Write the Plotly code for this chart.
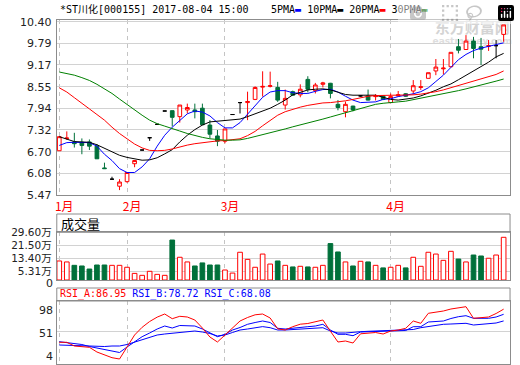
import plotly.graph_objects as go

# ---------------- data ----------------
title_text = "*ST川化[000155] 2017-08-04 15:00"
months = ["1月", "2月", "3月", "4月"]
month_start_idx = [0, 9, 22, 44]

opens = [6.73, 7.08, 6.98, 6.97, 6.98, 6.86, 6.24, 5.92, 5.72, 5.85,
         6.36, 6.75, 7.10, 7.48, 7.86, 7.87, 7.70, 7.89, 7.89, 7.94,
         7.46, 7.15, 7.00, 7.76, 8.10, 8.10, 8.19, 8.54, 8.56, 8.53,
         8.03, 8.41, 8.32, 8.76, 8.44, 8.62, 8.65, 8.05, 7.84, 8.00,
         8.29, 8.29, 8.27, 8.29, 8.10, 8.29, 8.35, 8.43, 8.53, 8.79,
         9.00, 9.06, 9.12, 9.69, 9.61, 9.85, 9.69, 9.70, 9.72, 10.04]
highs = [7.13, 7.28, 7.24, 7.08, 7.05, 6.92, 6.39, 5.99, 5.92, 6.11,
         6.46, 6.75, 7.10, 7.48, 7.86, 7.87, 8.03, 8.07, 8.07, 8.07,
         7.60, 7.32, 7.35, 7.76, 8.10, 8.41, 8.56, 8.99, 8.98, 8.69,
         8.47, 8.44, 8.62, 8.85, 8.66, 8.69, 8.66, 8.17, 8.13, 8.01,
         8.31, 8.47, 8.34, 8.30, 8.36, 8.43, 8.37, 8.74, 8.74, 8.95,
         9.34, 9.34, 9.53, 9.91, 10.02, 9.97, 9.94, 9.88, 9.88, 10.31]
lows = [6.73, 7.04, 6.82, 6.63, 6.75, 6.50, 6.22, 5.92, 5.61, 5.82,
        6.26, 6.75, 7.01, 7.48, 7.86, 7.42, 7.53, 7.79, 7.65, 7.46,
        7.08, 6.86, 6.94, 7.76, 7.79, 7.60, 8.17, 8.27, 8.53, 8.12,
        7.90, 8.30, 8.25, 8.39, 8.36, 8.53, 8.22, 7.88, 7.68, 7.85,
        8.27, 8.16, 8.16, 8.17, 8.10, 8.28, 8.26, 8.33, 8.46, 8.79,
        8.88, 8.90, 9.10, 9.50, 9.61, 9.36, 9.17, 9.57, 9.36, 9.83]
closes = [7.13, 7.09, 6.93, 6.88, 6.86, 6.50, 6.22, 5.92, 5.84, 6.11,
          6.45, 6.75, 7.10, 7.48, 7.86, 7.68, 8.03, 7.96, 7.84, 7.47,
          7.20, 7.00, 7.35, 7.76, 8.10, 8.13, 8.53, 8.56, 8.58, 8.17,
          8.22, 8.31, 8.48, 8.48, 8.60, 8.66, 8.36, 7.96, 8.05, 7.89,
          8.29, 8.17, 8.29, 8.19, 8.27, 8.32, 8.28, 8.58, 8.55, 8.95,
          9.11, 9.08, 9.53, 9.59, 9.85, 9.64, 9.62, 9.72, 9.72, 10.31]

# volume in 万 (10k shares)
volumes = [11.8, 11.2, 9.1, 8.7, 6.8, 9.3, 9.3, 9.1, 9.1, 7.9,
           4.1, 2.9, 5.4, 3.5, 2.9, 24.8, 14.1, 11.2, 8.7, 10.6,
           9.3, 9.3, 6.2, 4.3, 17.2, 12.8, 7.9, 16.1, 9.9, 11.8,
           9.1, 8.1, 8.5, 8.1, 7.9, 9.1, 22.6, 17.4, 11.2, 8.7,
           11.6, 11.2, 9.1, 7.5, 7.9, 9.1, 7.5, 14.1, 8.5, 17.2,
           16.1, 12.2, 17.8, 13.0, 11.2, 15.5, 14.9, 13.5, 15.5, 26.5]

ma5 = [6.88, 6.96, 6.97, 6.97, 6.96, 6.86, 6.63, 6.45, 6.22, 6.11,
       6.11, 6.27, 6.50, 6.86, 7.17, 7.40, 7.60, 7.78, 7.86, 7.83,
       7.72, 7.53, 7.38, 7.38, 7.53, 7.78, 8.02, 8.25, 8.40, 8.44,
       8.44, 8.38, 8.36, 8.36, 8.42, 8.47, 8.48, 8.40, 8.28, 8.17,
       8.10, 8.10, 8.12, 8.19, 8.21, 8.27, 8.30, 8.35, 8.41, 8.52,
       8.70, 8.88, 9.10, 9.32, 9.47, 9.58, 9.65, 9.70, 9.74, 9.80]
ma10 = [7.13, 7.06, 6.99, 6.98, 6.97, 6.90, 6.80, 6.70, 6.60, 6.54,
        6.49, 6.46, 6.47, 6.53, 6.64, 6.76, 6.98, 7.17, 7.33, 7.46,
        7.55, 7.57, 7.58, 7.60, 7.63, 7.70, 7.78, 7.86, 7.94, 8.05,
        8.17, 8.32, 8.40, 8.46, 8.48, 8.49, 8.46, 8.39, 8.33, 8.31,
        8.31, 8.31, 8.31, 8.25, 8.19, 8.17, 8.19, 8.23, 8.29, 8.36,
        8.45, 8.55, 8.63, 8.75, 8.87, 9.00, 9.12, 9.25, 9.40, 9.50]
ma20 = [8.52, 8.40, 8.24, 8.07, 7.92, 7.76, 7.60, 7.40, 7.22, 7.07,
        6.92, 6.81, 6.74, 6.73, 6.74, 6.78, 6.84, 6.89, 6.93, 6.96,
        6.99, 7.01, 7.02, 7.04, 7.07, 7.16, 7.28, 7.44, 7.60, 7.74,
        7.84, 7.91, 7.97, 8.02, 8.06, 8.09, 8.10, 8.12, 8.15, 8.19,
        8.24, 8.28, 8.30, 8.30, 8.30, 8.30, 8.31, 8.32, 8.34, 8.37,
        8.41, 8.46, 8.52, 8.58, 8.64, 8.70, 8.76, 8.82, 8.90, 9.00]
ma30 = [8.97, 8.93, 8.88, 8.81, 8.73, 8.62, 8.50, 8.36, 8.20, 8.04,
        7.88, 7.74, 7.60, 7.50, 7.43, 7.37, 7.29, 7.22, 7.16, 7.11,
        7.07, 7.04, 7.03, 7.03, 7.04, 7.08, 7.13, 7.19, 7.24, 7.29,
        7.35, 7.41, 7.46, 7.52, 7.58, 7.63, 7.69, 7.75, 7.82, 7.88,
        7.95, 8.00, 8.05, 8.08, 8.11, 8.12, 8.14, 8.18, 8.23, 8.27,
        8.31, 8.35, 8.40, 8.44, 8.49, 8.54, 8.59, 8.65, 8.71, 8.77]
ma_names = ["5PMA", "10PMA", "20PMA", "30PMA"]
ma_colors = ["#0000FF", "#000000", "#FF0000", "#008000"]

rsi_a = [33.9, 33.9, 28.0, 27.2, 25.9, 18.4, 13.6, 9.3, 7.2, 26.4,
         45.6, 57.9, 67.2, 74.2, 79.2, 71.7, 75.5, 74.4, 69.6, 56.8,
         42.4, 34.4, 45.6, 56.8, 68.0, 73.6, 77.9, 79.2, 72.8, 55.5,
         53.6, 58.9, 62.9, 64.0, 66.4, 69.6, 51.7, 34.4, 36.0, 32.8,
         47.5, 48.3, 49.6, 47.2, 52.0, 53.6, 56.3, 68.0, 64.3, 80.3,
         81.6, 84.0, 87.2, 88.8, 90.9, 72.3, 73.6, 74.4, 80.0, 86.95]
rsi_b = [34.9, 33.6, 32.0, 30.4, 27.2, 24.8, 21.6, 18.9, 17.6, 26.4,
         34.4, 42.9, 48.8, 55.2, 60.0, 56.8, 60.8, 60.8, 60.0, 55.2,
         48.8, 42.9, 46.7, 53.6, 57.6, 62.7, 65.6, 68.0, 65.6, 56.3,
         55.2, 56.8, 57.6, 58.9, 60.0, 62.7, 53.6, 46.7, 46.7, 44.5,
         50.4, 50.9, 50.9, 50.9, 52.5, 52.5, 52.8, 58.9, 58.9, 66.4,
         67.5, 68.0, 72.0, 74.9, 76.5, 72.3, 72.3, 72.3, 74.4, 78.72]
rsi_c = [29.6, 29.1, 28.5, 28.0, 27.2, 26.9, 27.2, 28.0, 28.0, 30.4,
         34.4, 38.4, 42.4, 45.6, 47.2, 48.3, 49.6, 50.9, 52.0, 50.4,
         48.0, 44.0, 45.6, 49.6, 53.6, 55.2, 56.8, 59.0, 57.3, 53.6,
         53.6, 54.4, 55.2, 56.0, 56.8, 57.3, 52.0, 48.8, 48.8, 49.3,
         50.9, 51.5, 52.0, 52.3, 52.5, 52.8, 53.3, 54.4, 57.3, 59.2,
         61.1, 62.7, 63.2, 64.0, 64.3, 61.6, 62.4, 63.2, 64.8, 68.08]
rsi_names = ["RSI_A", "RSI_B", "RSI_C"]
rsi_colors = ["#FF0000", "#0000FF", "#0000FF"]

price_ticks = [5.47, 6.08, 6.70, 7.32, 7.94, 8.55, 9.17, 9.79, 10.40]
vol_ticks = [5.31, 13.40, 21.50, 29.60]
rsi_tick_labels = ["98", "51", "4"]
rsi_mid_line = 51

# ---------------- styling ----------------
W, H = 520, 365
RED = "#FF0000"
GREEN = "#00703A"
BORDER = "#8C8C8C"
GRID = "#D2D2D2"
VGRID = "#C4C4C4"
LBL = "#222222"
MONO = "DejaVu Sans Mono, Noto Sans CJK SC, monospace"
SANS = "DejaVu Sans, Noto Sans CJK SC, sans-serif"
CJK = "Noto Sans CJK SC, sans-serif"

def px_x(p):
    return p / W

def px_y(p):
    return 1 - p / H

XD = [px_x(55), px_x(510)]
MAIN_D = [px_y(195), px_y(19.5)]
VOL_D = [px_y(280), px_y(232.3)]
RSI_D = [px_y(364), px_y(301)]
XR = [-0.33, 59.85]

n = len(opens)
idx = list(range(n))
up = [i for i in idx if closes[i] > opens[i]]
dn = [i for i in idx if closes[i] < opens[i]]
flat = [i for i in idx if closes[i] == opens[i]]
vol_up = [i for i in idx if closes[i] >= opens[i]]
vol_dn = [i for i in idx if closes[i] < opens[i]]


def sub(arr, ii):
    return [arr[i] for i in ii]


fig = go.Figure()


def add_candles(ii, inc_line, inc_fill, dec_line, dec_fill):
    fig.add_trace(go.Candlestick(
        x=ii, open=sub(opens, ii), high=sub(highs, ii), low=sub(lows, ii),
        close=sub(closes, ii),
        increasing=dict(line=dict(color=inc_line, width=1), fillcolor=inc_fill),
        decreasing=dict(line=dict(color=dec_line, width=1), fillcolor=dec_fill),
        whiskerwidth=0, showlegend=False, hoverinfo="skip",
        xaxis="x", yaxis="y"))


add_candles(up, RED, "#FFFFFF", RED, "#FFFFFF")
add_candles(dn, GREEN, GREEN, GREEN, GREEN)
add_candles(flat, "#000000", "#000000", "#000000", "#000000")

for vals, col in zip([ma5, ma10, ma20, ma30], ma_colors):
    fig.add_trace(go.Scatter(x=idx, y=vals, mode="lines",
                             line=dict(color=col, width=1),
                             showlegend=False, hoverinfo="skip",
                             xaxis="x", yaxis="y"))

fig.add_trace(go.Bar(x=vol_up, y=sub(volumes, vol_up), width=0.62,
                     marker=dict(color="#FFFFFF", line=dict(color=RED, width=1)),
                     showlegend=False, hoverinfo="skip", xaxis="x2", yaxis="y2"))
fig.add_trace(go.Bar(x=vol_dn, y=sub(volumes, vol_dn), width=0.62,
                     marker=dict(color=GREEN, line=dict(color=GREEN, width=1)),
                     showlegend=False, hoverinfo="skip", xaxis="x2", yaxis="y2"))

for vals, col in zip([rsi_c, rsi_b, rsi_a], rsi_colors[::-1]):
    fig.add_trace(go.Scatter(x=idx, y=vals, mode="lines",
                             line=dict(color=col, width=1),
                             showlegend=False, hoverinfo="skip",
                             xaxis="x3", yaxis="y3"))

xcommon = dict(domain=XD, range=XR, tickvals=month_start_idx, showgrid=True,
               gridcolor=VGRID, griddash="4px,4px", gridwidth=1,
               showline=True, mirror=True, linecolor=BORDER, linewidth=1,
               zeroline=False, ticks="", fixedrange=True)
ycommon = dict(showgrid=True, gridcolor=GRID, gridwidth=1, showline=True,
               mirror=True, linecolor=BORDER, linewidth=1, zeroline=False,
               ticks="", tickfont=dict(family=SANS, size=11, color=LBL),
               ticklabelstandoff=2, automargin=False, fixedrange=True)

fig.update_layout(
    width=W, height=H, autosize=False,
    margin=dict(l=0, r=0, t=0, b=0),
    paper_bgcolor="#FFFFFF", plot_bgcolor="#FFFFFF",
    barmode="overlay", showlegend=False,
    xaxis=dict(**xcommon, anchor="y", ticktext=months,
               tickfont=dict(family=CJK, size=12, color=RED),
               ticklabelshift=5, ticklabelstandoff=1,
               rangeslider=dict(visible=False)),
    yaxis=dict(**ycommon, domain=MAIN_D, range=[5.47, 10.464],
               tickvals=price_ticks,
               ticktext=[f"{v:.2f}" for v in price_ticks], anchor="x"),
    xaxis2=dict(**xcommon, anchor="y2", showticklabels=False),
    yaxis2=dict(**{k: v for k, v in ycommon.items() if k != "tickfont"},
                tickfont=dict(family=SANS, size=10.5, color=LBL),
                domain=VOL_D, range=[0, 29.6],
                tickvals=vol_ticks,
                ticktext=[f"{v:.2f}万" for v in vol_ticks],
                anchor="x2"),
    xaxis3=dict(**xcommon, anchor="y3", showticklabels=False),
    yaxis3=dict(**{k: v for k, v in ycommon.items() if k != "showgrid"},
                showgrid=False, showticklabels=False,
                domain=RSI_D, range=[-0.8, 100],
                minor=dict(tickvals=[rsi_mid_line], showgrid=True,
                           gridcolor=GRID, gridwidth=1, ticks=""),
                anchor="x3"),
)

# panel header boxes (volume and RSI)
for y0, y1 in [(px_y(232.3), px_y(214)), (px_y(301), px_y(288))]:
    fig.add_shape(type="rect", xref="paper", yref="paper",
                  x0=XD[0], x1=XD[1], y0=y0, y1=y1,
                  line=dict(color=BORDER, width=1), fillcolor="rgba(0,0,0,0)")

# watermark below the traces
fig.add_shape(type="rect", xref="paper", yref="paper",
              x0=px_x(434), x1=px_x(510), y0=px_y(36), y1=px_y(20),
              line=dict(width=0), fillcolor="rgba(0,0,0,0)", layer="below",
              label=dict(text="<b>东方财富网</b>",
                         font=dict(family=CJK, size=15, color="#D4D4D4"),
                         textposition="middle center"))
fig.add_shape(type="rect", xref="paper", yref="paper",
              x0=px_x(434), x1=px_x(510), y0=px_y(44), y1=px_y(36),
              line=dict(width=0), fillcolor="rgba(0,0,0,0)", layer="below",
              label=dict(text="<b>eastmoney.com</b>",
                         font=dict(family=SANS, size=9, color="#DEDEDE"),
                         textposition="middle center"))

# title
fig.add_annotation(xref="paper", yref="paper", x=px_x(56), y=px_y(9),
                   xanchor="left", yanchor="middle", showarrow=False,
                   text=title_text,
                   font=dict(family=MONO, size=10, color="#000000"))

# MA legend
legend_html = " ".join(
    f"{nm}<span style='color:{c}'>▬</span>" for nm, c in zip(ma_names, ma_colors))
fig.add_annotation(xref="paper", yref="paper", x=px_x(268), y=px_y(9),
                   xanchor="left", yanchor="middle", showarrow=False,
                   text=legend_html,
                   font=dict(family=MONO, size=10, color="#000000"))

# volume header and its zero label (drawn at the panel floor)
fig.add_annotation(xref="paper", yref="paper", x=px_x(57), y=px_y(223),
                   xanchor="left", yanchor="middle", showarrow=False,
                   text="成交量", font=dict(family=CJK, size=13, color="#000000"))
fig.add_annotation(xref="paper", yref="paper", x=px_x(53), y=px_y(283.5),
                   xanchor="right", yanchor="middle", showarrow=False,
                   text="0", font=dict(family=SANS, size=11, color=LBL))

# RSI scale labels (placed as in the source chart, inside the panel)
for lab, ypx in zip(rsi_tick_labels, [310, 333.3, 356]):
    fig.add_annotation(xref="paper", yref="paper", x=px_x(53), y=px_y(ypx),
                       xanchor="right", yanchor="middle", showarrow=False,
                       text=lab, font=dict(family=SANS, size=11, color=LBL))

# RSI header
rsi_last = [rsi_a[-1], rsi_b[-1], rsi_c[-1]]
rsi_html = " ".join(
    f"<span style='color:{c}'>{nm}:{v:.2f}</span>"
    for nm, c, v in zip(rsi_names, rsi_colors, rsi_last))
fig.add_annotation(xref="paper", yref="paper", x=px_x(56), y=px_y(294),
                   xanchor="left", yanchor="middle", showarrow=False,
                   text=rsi_html, font=dict(family=MONO, size=10))

fig.write_html(
    "out.html",
    post_script="document.body.style.margin='0px';"
                "document.body.style.overflow='hidden';")
